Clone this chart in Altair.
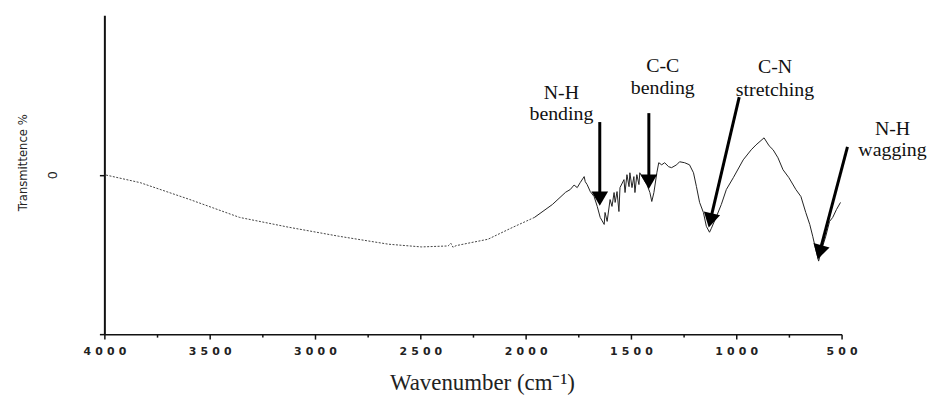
import altair as alt
import pandas as pd

# ---- spectrum data (wavenumber cm-1, transmittance relative units) ----
wn_smooth = [4000, 3830, 3594, 3358, 3123, 2887, 2651, 2495, 2368, 2355, 2345, 2330, 2274, 2179, 2061, 1958]
val_smooth = [0.0, -5.0, -15.6, -26.8, -33.0, -38.6, -43.6, -45.3, -44.7, -43.0, -45.5, -44.5, -43.0, -40.5, -33.0, -26.8]

wn_band = [1958, 1873, 1810, 1788, 1770, 1755, 1741, 1722, 1717, 1708, 1693, 1675, 1660, 1646, 1627, 1623,
           1613, 1599, 1590, 1580, 1575, 1566, 1557, 1552, 1533, 1528, 1519, 1509, 1505, 1495, 1486, 1481,
           1472, 1462, 1458, 1439, 1424, 1410, 1401, 1391, 1377, 1368, 1354, 1340, 1321, 1307, 1283, 1269,
           1245, 1222, 1203, 1189, 1174, 1156, 1142, 1127, 1118, 1094, 1071, 1047, 1014, 967, 929, 906,
           868, 844, 825, 802, 778, 750, 717, 693, 670, 651, 637, 623, 609, 594, 575, 557, 542, 524, 505]
val_band = [-26.8, -18.7, -11.0, -9.3, -6.5, -8.1, -5.0, -1.2, -4.4, -6.2, -10.6, -13.7, -19.9, -26.8, -31.2, -23.7,
            -29.3, -15.6, -19.9, -11.2, -17.4, -10.6, -23.1, -8.1, -3.1, -11.2, 0.0, -7.5, 1.2, -8.1, -1.2, -11.2,
            0.0, -6.2, 1.2, -3.1, -6.2, -11.2, -16.8, -11.2, 1.2, 7.5, 6.2, 7.5, 5.0, 4.4, 6.2, 8.1,
            7.5, 6.2, 1.2, -7.5, -17.4, -23.7, -32.4, -36.1, -33.6, -26.2, -18.7, -9.3, -1.9, 9.3, 15.6, 18.7,
            23.1, 18.1, 15.6, 10.6, 3.1, -1.9, -9.3, -13.7, -23.7, -31.2, -38.6, -46.7, -54.2, -46.7, -38.6, -29.3, -26.8, -21.8, -17.4]

# ---- annotations ----
arrow_wn_start = [1648, 1415, 986, 472]
arrow_val_start = [33.0, 38.6, 48.6, 17.4]
arrow_wn_head = [1648, 1415, 1123, 604]
arrow_val_head = [-15.0, -4.4, -28.7, -48.6]
arrow_angle = [0, 0, 13, 15]

label_text = ["N-H", "bending", "C-C", "bending", "C-N", "stretching", "N-H", "wagging"]
label_wn = [1830, 1830, 1349, 1349, 816, 816, 258, 258]
label_val = [47.5, 34.5, 64.2, 50.5, 63.6, 49.2, 24.9, 11.8]

x_major = [4000, 3500, 3000, 2500, 2000, 1500, 1000, 500]
x_minor = [3750, 3250, 2750, 2250, 1750, 1250, 750]
y_ticks = [-100, 0]

smooth = pd.DataFrame({"wn": wn_smooth, "val": val_smooth})
band = pd.DataFrame({"wn": wn_band, "val": val_band})
arrows = pd.DataFrame({"wn": arrow_wn_start, "val": arrow_val_start,
                       "wn2": arrow_wn_head, "val2": arrow_val_head, "ang": arrow_angle})
labels = pd.DataFrame({"t": label_text, "wn": label_wn, "val": label_val})

xscale = alt.Scale(domain=[4000, 500], nice=False, zero=False)
yscale = alt.Scale(domain=[-100, 100], nice=False, zero=False)

x_axis = alt.Axis(
    values=sorted(x_major + x_minor, reverse=True),
    format="d",
    labelExpr="datum.value % 500 == 0 ? join(split(datum.label, ''), '\u2008') : ''",
    tickSize={"condition": {"test": "datum.value % 500 == 0", "value": 5}, "value": 3},
    tickColor="#111", tickWidth=1.5,
    domainColor="#111", domainWidth=1.5,
    labelFont="DejaVu Sans", labelFontSize=11, labelFontWeight="bold", labelColor="#222",
    labelPadding=6, labelFlush=False, labelOverlap=False,
    grid=False,
    title="Wavenumber (cm\u207b\u00b9)",
    titleFont="Liberation Serif", titleFontSize=23, titleFontWeight="normal", titleColor="#222",
    titleX=380, titleY=56, titleAlign="center", titleBaseline="alphabetic",
)
y_axis = alt.Axis(
    values=y_ticks,
    labelExpr="datum.value == 0 ? '0' : ''",
    labelAngle=270, labelAlign="center", labelBaseline="bottom", labelPadding=40,
    labelFont="DejaVu Sans", labelFontSize=13, labelColor="#222",
    tickSize=5, tickColor="#111", tickWidth=1.5,
    domainColor="#111", domainWidth=2,
    grid=False,
    title="Transmittence %",
    titleFont="Liberation Sans Narrow, DejaVu Sans Condensed, Liberation Sans", titleFontSize=13,
    titleFontWeight="normal",
    titleColor="#222", titleAngle=270, titleX=-82, titleY=148, titleAlign="center", titleBaseline="middle",
)

X = lambda f: alt.X(f, scale=xscale, axis=x_axis)
Y = lambda f: alt.Y(f, scale=yscale, axis=y_axis)

line_smooth = alt.Chart(smooth).mark_line(strokeWidth=1, color="#444", strokeDash=[2, 1.5]).encode(
    x=X("wn:Q"), y=Y("val:Q"), order="wn:Q",
)
line_band = alt.Chart(band).mark_line(strokeWidth=1, color="#222").encode(
    x=X("wn:Q"), y=Y("val:Q"), order=alt.Order("wn:Q", sort="descending"),
)
rules = alt.Chart(arrows).mark_rule(strokeWidth=3, color="black").encode(
    x=X("wn:Q"), y=Y("val:Q"), x2="wn2:Q", y2="val2:Q",
)
heads = alt.Chart(arrows).mark_point(shape="triangle-down", filled=True, size=280, color="black", opacity=1).encode(
    x=X("wn2:Q"), y=Y("val2:Q"), angle=alt.Angle("ang:Q", scale=None),
)
texts = alt.Chart(labels).mark_text(font="Liberation Serif", fontSize=20, color="#111",
                                    align="center", baseline="alphabetic").encode(
    x=X("wn:Q"), y=Y("val:Q"), text="t:N",
)

chart = alt.layer(line_smooth, line_band, rules, heads, texts).properties(
    width=742, height=321,
    autosize=alt.AutoSizeParams(type="none"),
    padding={"left": 97, "top": 6, "right": 88, "bottom": 62},
    background="white",
).configure_view(stroke=None)

chart.save("out.html", embed_options={"renderer": "svg", "actions": False})
